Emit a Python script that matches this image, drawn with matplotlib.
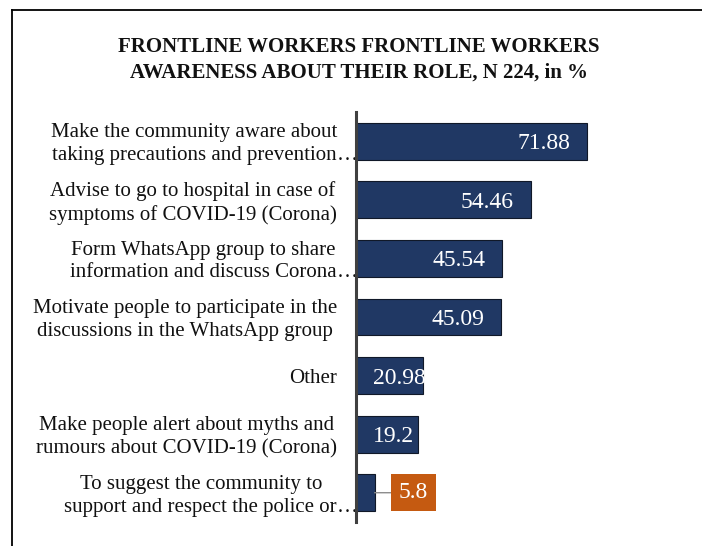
import matplotlib
matplotlib.use("Agg")
import matplotlib.pyplot as plt
from matplotlib.lines import Line2D
from matplotlib import transforms

# Survey responses (percent of 224 frontline workers)
categories = [
    "Make the community aware about\ntaking precautions and prevention",
    "Advise to go to hospital in case of\nsymptoms of COVID-19 (Corona)",
    "Form WhatsApp group to share\ninformation and discuss Corona",
    "Motivate people to participate in the\ndiscussions in the WhatsApp group",
    "Other",
    "Make people alert about myths and\nrumours about COVID-19 (Corona)",
    "To suggest the community to\nsupport and respect the police or",
]
truncated = [True, False, True, False, False, False, True]
values = [71.88, 54.46, 45.54, 45.09, 20.98, 19.2, 5.8]
callout = [False, False, False, False, False, False, True]

title = "FRONTLINE WORKERS FRONTLINE WORKERS\nAWARENESS ABOUT THEIR ROLE, N 224, in %"

BAR = "#203864"
CALLOUT = "#C55A11"
SERIF = ["Liberation Serif", "DejaVu Serif"]

W, H = 702, 546
fig = plt.figure(figsize=(W / 100, H / 100), dpi=100)
fig.patch.set_facecolor("white")

# frame around the chart (top and left edges visible)
fig.add_artist(Line2D([12 / W, 1], [1 - 9.5 / H, 1 - 9.5 / H], color="#000000", lw=1.3))
fig.add_artist(Line2D([12 / W, 12 / W], [0, 1 - 9.5 / H], color="#000000", lw=1.3))

ax_left, ax_right, ax_top, ax_bottom = 356, 690, 112, 522
ax = fig.add_axes([ax_left / W, 1 - ax_bottom / H, (ax_right - ax_left) / W, (ax_bottom - ax_top) / H])

ypos = list(range(len(values)))
ax.barh(ypos, values, height=0.63, color=BAR, edgecolor="#101828", linewidth=0.8, zorder=2)

ax.set_xlim(0, (ax_right - ax_left) / 3.214)
ax.set_ylim(len(values) - 0.5, -0.5)
for s in ("top", "right", "bottom"):
    ax.spines[s].set_visible(False)
ax.spines["left"].set_color("#404040")
ax.spines["left"].set_linewidth(2.2)
ax.spines["left"].set_zorder(3)
ax.set_xticks([])
ax.set_yticks([])

# category labels: centred lines, block right-aligned left of the axis
label_tr = transforms.offset_copy(ax.get_yaxis_transform(), fig=fig, x=-19, y=-3, units="dots")
label_artists = []
for y, cat in zip(ypos, categories):
    t = ax.text(0, y, cat, transform=label_tr, ha="right", va="center",
                multialignment="center", fontsize=15, family=SERIF,
                linespacing=1.27, color="#111111")
    label_artists.append(t)
for t, tr in zip(label_artists, truncated):
    if tr:
        ax.annotate("\u2026", xy=(1, 0), xycoords=t, ha="left", va="bottom",
                    fontsize=15, family=SERIF, color="#111111")

# value labels
value_tr = transforms.offset_copy(ax.transData, fig=fig, x=0, y=-2.5, units="dots")
fig.canvas.draw()
renderer = fig.canvas.get_renderer()
px = 3.214  # pixels per percentage point
for y, v, c in zip(ypos, values, callout):
    txt = f"{v:g}"
    if c:
        ax.annotate(txt, xy=(v, y), xytext=(39, 0), textcoords="offset pixels",
                    ha="center", va="center", fontsize=17, family=SERIF, color="white",
                    bbox=dict(boxstyle="square,pad=0.33", fc=CALLOUT, ec="none"),
                    arrowprops=dict(arrowstyle="-", color="#8c8c8c", lw=1.0,
                                    shrinkA=0, shrinkB=0), zorder=4)
        continue
    t = ax.text(v - 17 / px, y, txt, transform=value_tr, ha="right", va="center",
                fontsize=17, family=SERIF, color="white", zorder=4)
    bb = t.get_window_extent(renderer)
    axis_x = ax.transData.transform((0, 0))[0]
    if bb.x0 < axis_x + 17:
        t.set_x(17 / px)
        t.set_ha("left")

fig.text(359 / W, 1 - 60 / H, title, ha="center", va="center", fontsize=15,
         fontweight="bold", family=SERIF, linespacing=1.4, color="#111111")

fig.savefig("out.png", dpi=100)
